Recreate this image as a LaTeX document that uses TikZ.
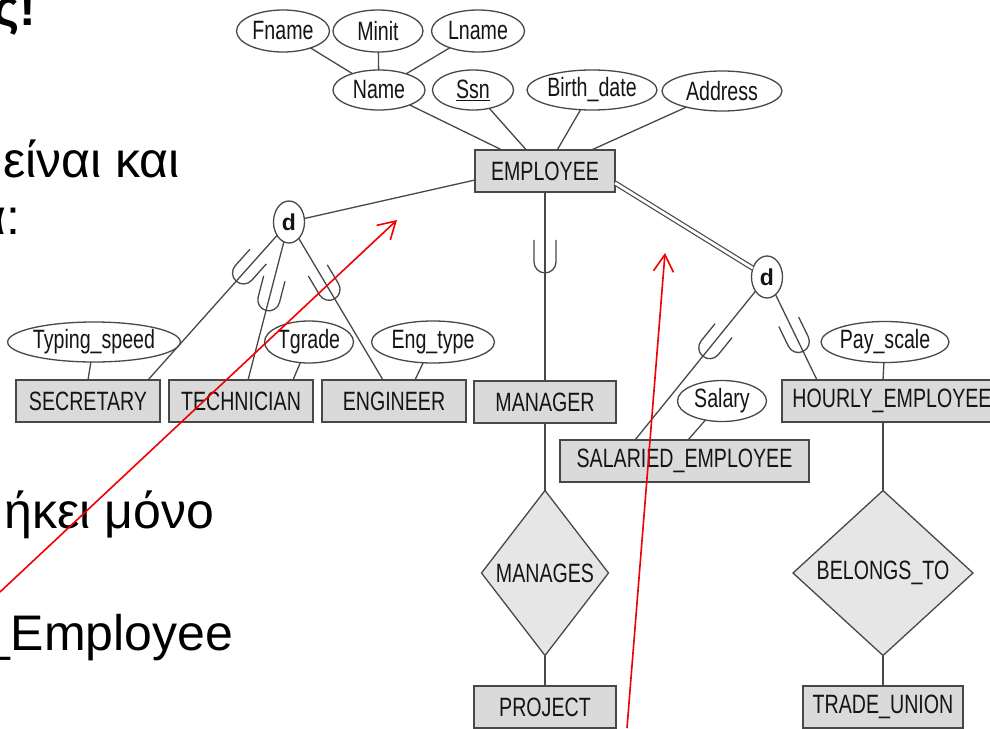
\documentclass[tikz,border=0pt]{standalone}
\usepackage{fontspec}
\setmainfont{Liberation Sans}
\newfontfamily\erfont[FakeStretch=0.74]{Liberation Sans}
\usetikzlibrary{shapes.geometric,arrows.meta,decorations.markings}
\definecolor{ln}{HTML}{484848}
\definecolor{entfill}{HTML}{DADADA}
\definecolor{relfill}{HTML}{E6E6E6}
\definecolor{txt}{HTML}{151515}
\definecolor{redln}{HTML}{F00000}
\begin{document}
\begin{tikzpicture}[x=1pt,y=-1pt,
  every node/.style={inner sep=0pt, outer sep=0pt},
  erfnt/.style={font=\erfont\fontsize{26.5}{30}\selectfont, text=txt},
  ent/.style={erfnt, draw=ln, line width=1.4pt, fill=entfill, rectangle, minimum height=42pt},
  attr/.style={erfnt, draw=ln, line width=1.3pt, fill=white, ellipse},
  rel/.style={erfnt, draw=ln, line width=1.3pt, fill=relfill, diamond},
  dcirc/.style={draw=ln, line width=1.3pt, fill=white, ellipse, minimum width=31pt, minimum height=42pt, font=\bfseries\fontsize{23}{26}\selectfont, text=txt},
  conn/.style={draw=ln, line width=1.3pt},
  dbl/.style={draw=ln, line width=1.2pt, double=white, double distance=2.8pt},
  cupped/.style={postaction={decorate}, decoration={markings, mark=at position #1 with {\draw[ln, line width=1.3pt] (-22pt,11pt) -- (0pt,11pt) arc[start angle=90, end angle=-90, radius=11pt] -- (-22pt,-11pt);}}},
  slide/.style={font=\fontsize{50}{60}\selectfont, text=black, anchor=base east},
  redarrow/.style={draw=redln, line width=1.6pt, -{Straight Barb[length=17pt,width=20pt]}}
]
\useasboundingbox (0,0) rectangle (990,728);
\clip (0,0) rectangle (990,728);

% slide text (cut at the left edge)
\node[slide, font=\bfseries\fontsize{50}{60}\selectfont] (t1) at (36,25) {ς!};
\node[slide] (t2) at (180,177) {είναι και};
\node[slide] (t3) at (20,234) {α:};
\node[slide] (t4) at (214,528) {ήκει μόνο};
\node[slide] (t5) at (233,650) {\_Employee};

% attributes of EMPLOYEE
\node[attr, minimum width=93pt, minimum height=42pt] (fname) at (283,31) {Fname};
\node[attr, minimum width=90pt, minimum height=42pt] (minit) at (378,31) {Minit};
\node[attr, minimum width=93pt, minimum height=42pt] (lname) at (478,31) {Lname};
\node[attr, minimum width=92pt, minimum height=40pt] (name) at (379,90) {Name};
\node[attr, minimum width=81pt, minimum height=40pt] (ssn) at (473,90) {\underline{Ssn}};
\node[attr, minimum width=130pt, minimum height=40pt] (bdate) at (592,90) {Birth\_date};
\node[attr, minimum width=120pt, minimum height=40pt] (addr) at (722,91) {Address};

% entities
\node[ent, minimum width=140pt] (emp) at (545,171) {EMPLOYEE};
\node[ent, minimum width=144pt] (sec) at (88,401) {SECRETARY};
\node[ent, minimum width=144pt] (tech) at (241,401) {TECHNICIAN};
\node[ent, minimum width=144pt] (eng) at (394,401) {ENGINEER};
\node[ent, minimum width=142pt] (mgr) at (545,402) {MANAGER};
\node[ent, minimum width=249pt] (sal) at (684.5,461) {SALARIED\_EMPLOYEE};
\node[ent, minimum width=220pt] (hr) at (892,401) {HOURLY\_EMPLOYEE};
\node[ent, minimum width=142pt] (proj) at (545,707) {PROJECT};
\node[ent, minimum width=160pt] (tu) at (883,707) {TRADE\_UNION};

% subclass attributes
\node[attr, minimum width=149pt, minimum height=40pt] (tspeed) at (94,342) {Typing\_speed};
\node[attr, minimum width=89pt, minimum height=42pt] (tgrade) at (309,342) {Tgrade};
\node[attr, minimum width=123pt, minimum height=42pt] (etype) at (433,342) {Eng\_type};
\node[attr, minimum width=117pt, minimum height=41pt] (pscale) at (885,342) {Pay\_scale};
\node[attr, minimum width=89pt, minimum height=41pt] (salary) at (722,401) {Salary};

% relationships
\node[rel, minimum width=127pt, minimum height=165pt] (manages) at (545,573) {MANAGES};
\node[rel, minimum width=180pt, minimum height=165pt] (belongs) at (883,573) {BELONGS\_TO};

% disjointness circles
\node[dcirc] (dl) at (289,222) {d};
\node[dcirc] (dr) at (767,277) {d};

% attachment points
\coordinate (empL) at (475,180);
\coordinate (empR) at (615,183);
\coordinate (secA) at (148,380);
\coordinate (techA) at (248,380);
\coordinate (techB) at (293,380);
\coordinate (engA) at (383,380);
\coordinate (engB) at (415,380);
\coordinate (salA) at (635,440);
\coordinate (salB) at (688,440);
\coordinate (hrA) at (817,380);
\coordinate (hrT) at (883,380);
\coordinate (hrB) at (883,422);
\coordinate (secT) at (88,380);

% attribute connectors
\draw[conn] (fname) -- (name);
\draw[conn] (minit) -- (name);
\draw[conn] (lname) -- (name);
\draw[conn] (name) -- (emp);
\draw[conn] (ssn) -- (emp);
\draw[conn] (bdate) -- (emp);
\draw[conn] (addr) -- (emp);
\draw[conn] (tspeed) -- (secT);
\draw[conn] (tgrade) -- (techB);
\draw[conn] (etype) -- (engB);
\draw[conn] (salary) -- (salB);
\draw[conn] (pscale) -- (hrT);

% specialization connectors
\draw[conn] (dl) -- (empL);
\draw[conn, cupped=0.26] (dl) -- (secA);
\draw[conn, cupped=0.42] (dl) -- (techA);
\draw[conn, cupped=0.36] (dl) -- (engA);
\draw[conn, cupped=0.37] (emp) -- (mgr);
\draw[dbl] (empR) -- (dr);
\draw[conn, cupped=0.38] (dr) -- (salA);
\draw[conn, cupped=0.55] (dr) -- (hrA);

% relationship connectors
\draw[conn] (mgr) -- (manages);
\draw[conn] (manages) -- (proj);
\draw[conn] (hrB) -- (belongs);
\draw[conn] (belongs) -- (tu);

% red annotation arrows
\coordinate (r1s) at (0,592);
\coordinate (r1e) at (397,220);
\coordinate (r2s) at (627,728);
\coordinate (r2e) at (665,253);
\draw[redarrow] (r1s) -- (r1e);
\draw[redarrow] (r2s) -- (r2e);
\end{tikzpicture}
\end{document}
